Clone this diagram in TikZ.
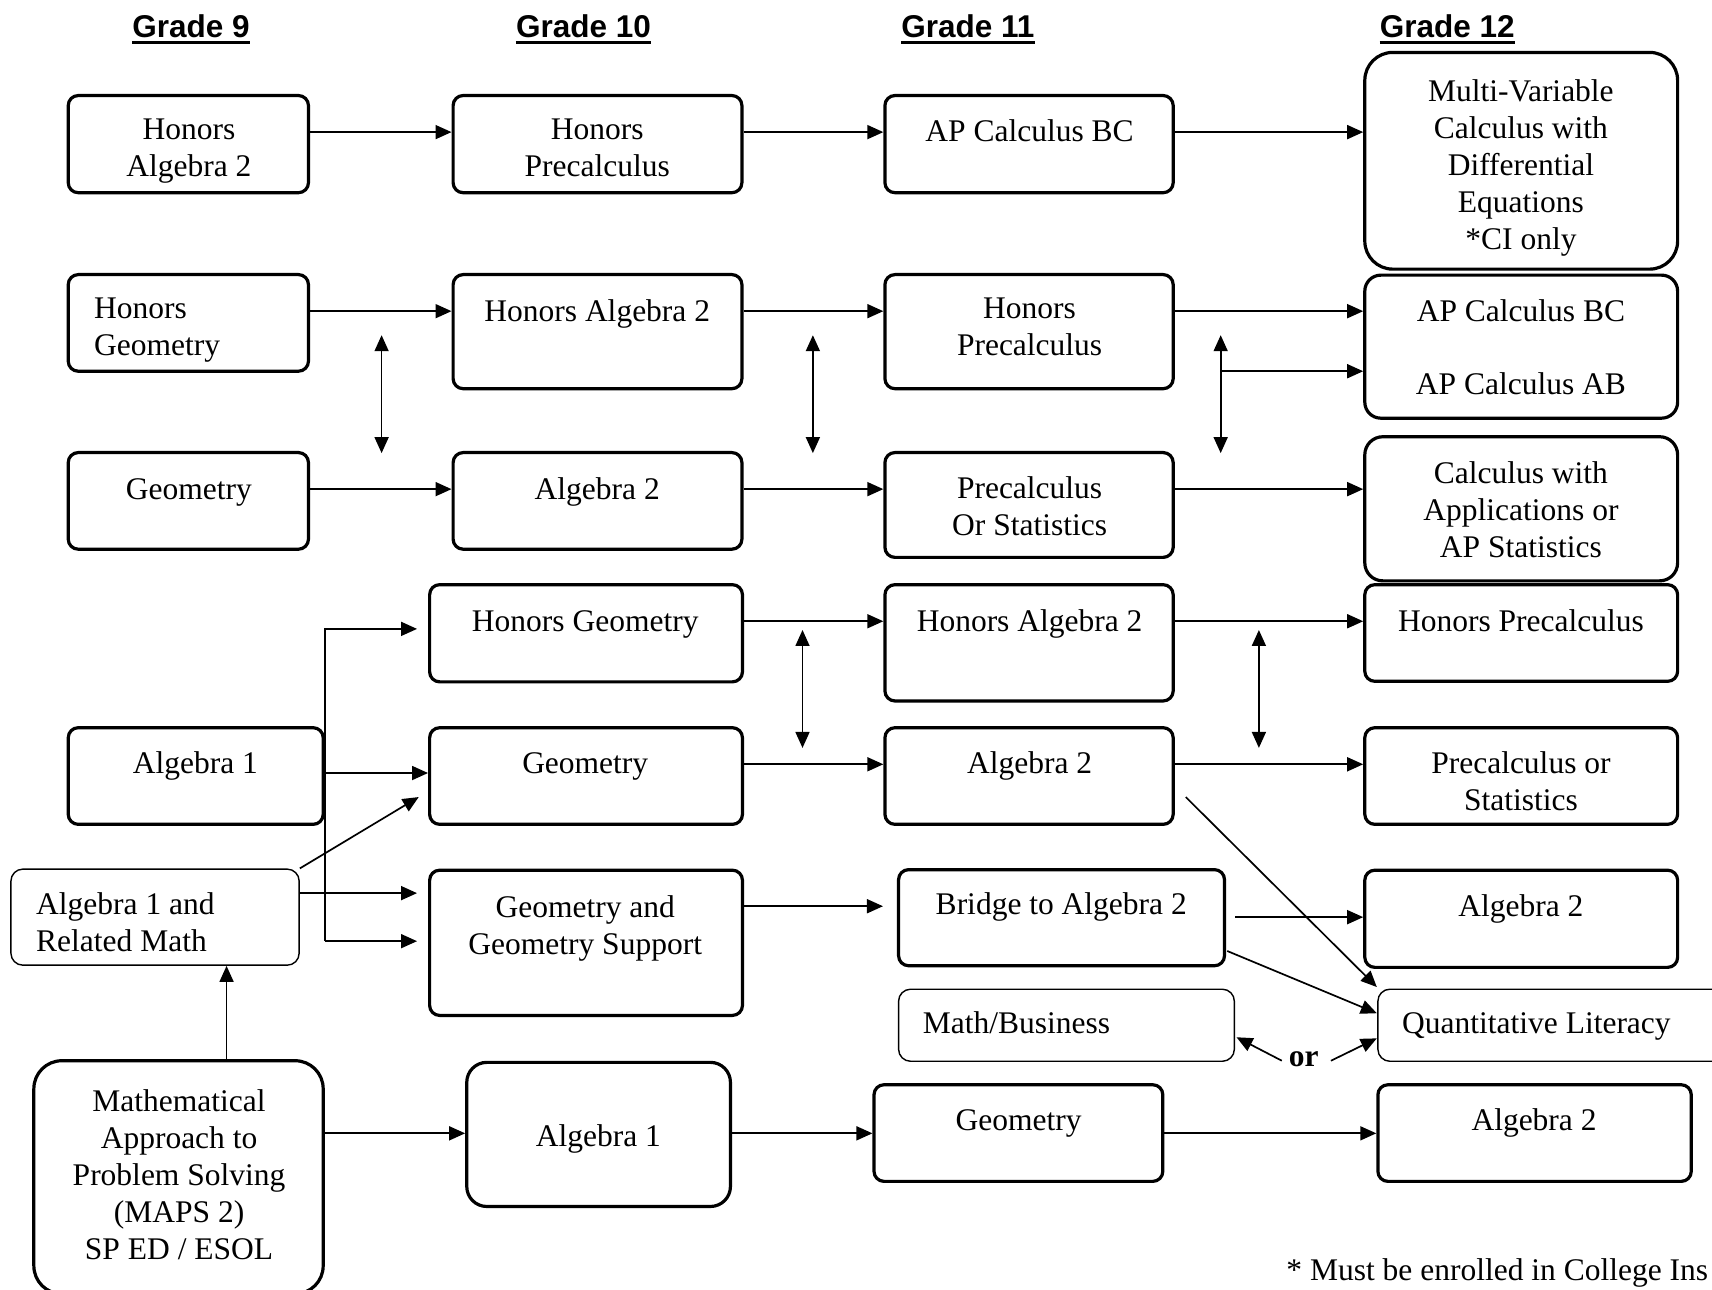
\documentclass[tikz,border=0pt]{standalone}
\usepackage{fontspec}
\setmainfont{Liberation Serif}
\newfontfamily\headfont{Liberation Sans}
\usetikzlibrary{fit,arrows.meta}
\begin{document}
\begin{tikzpicture}[x=1.0918pt,y=-1.0918pt,
  box/.style={draw, line width=3.2pt, rounded corners=10pt, inner sep=0pt},
  thinbox/.style={draw, line width=1.4pt, rounded corners=12pt, inner sep=0pt},
  txt/.style={anchor=north, yshift=15pt, align=center, inner sep=0pt, font=\fontsize{31.5pt}{37pt}\selectfont, execute at begin node=\strut},
  txtm/.style={txt, yshift=-4pt},
  txtl/.style={txt, anchor=north west, align=left},
  txtlm/.style={txtl, yshift=-4pt},
  head/.style={anchor=base, inner sep=0pt, font=\headfont\bfseries\fontsize{31.5pt}{37pt}\selectfont},
  uline/.style={line width=3.2pt},
  arr/.style={line width=1.7pt, -{Triangle[length=16pt,width=14pt]}},
  darr/.style={line width=1.7pt, {Triangle[length=16pt,width=14pt]}-{Triangle[length=16pt,width=14pt]}},
]
\useasboundingbox (0,0) rectangle (1568,1181);
\clip (0,0) rectangle (1568,1181);

% headings
\node[head] (g9) at (175,34) {Grade 9};
\node[head] (g10) at (534.5,34) {Grade 10};
\node[head] (g11) at (886.5,34) {Grade 11};
\node[head] (g12) at (1325.5,34) {Grade 12};
\foreach \g in {g9,g10,g11,g12}{
  \draw[uline] ([yshift=-5pt]\g.base west) -- ([yshift=-5pt]\g.base east);
}

% boxes
\node[box, fit={(62.5,87.5)(282.5,176.5)}] (ha2a) {};
\node[box, fit={(415,87.5)(679.5,176.5)}] (hpre10) {};
\node[box, fit={(810.5,87.5)(1074.5,176.5)}] (apbc11) {};
\node[box, rounded corners=28pt, fit={(1250,48)(1536.5,246.5)}] (mv12) {};

\node[box, fit={(62.5,251.5)(282.5,340)}] (hg9) {};
\node[box, fit={(415,251.5)(679.5,356)}] (ha2b) {};
\node[box, fit={(810.5,251.5)(1074.5,356)}] (hpre11) {};
\node[box, rounded corners=16pt, fit={(1250,252)(1536.5,383)}] (apbc12) {};

\node[box, fit={(62.5,414.5)(282.5,503)}] (geo9) {};
\node[box, fit={(415,414.5)(679.5,503)}] (a2ten) {};
\node[box, fit={(810.5,414.5)(1074.5,510.5)}] (prestat11) {};
\node[box, rounded corners=18pt, fit={(1250,400)(1536.5,532)}] (calcapp12) {};

\node[box, fit={(393.5,535.5)(680,624.5)}] (hgeo10) {};
\node[box, fit={(810.5,535.5)(1074.5,642)}] (ha2c) {};
\node[box, fit={(1250,535.5)(1536.5,624)}] (hpre12) {};

\node[box, fit={(62.5,666.5)(296,755)}] (alg1nine) {};
\node[box, fit={(393.5,666.5)(680,755)}] (geo10) {};
\node[box, fit={(810.5,666.5)(1074.5,755)}] (a2eleven) {};
\node[box, fit={(1250,666.5)(1536.5,755)}] (prestat12) {};

\node[thinbox, fit={(10,796)(274,884)}] (a1rm) {};
\node[box, fit={(393.5,797)(680,930)}] (ggs10) {};
\node[box, fit={(823,796.5)(1121.5,884.5)}] (bridge) {};
\node[box, fit={(1250,797)(1536.5,886)}] (a2twa) {};

\node[thinbox, fit={(823,906)(1130.5,972)}] (mb) {};
\node[thinbox, fit={(1262,906)(1600,972)}] (ql) {};

\node[box, rounded corners=28pt, fit={(31,971.5)(296,1185)}] (maps) {};
\node[box, rounded corners=20pt, fit={(427.5,973)(669,1105)}] (alg1ten) {};
\node[box, fit={(800.5,993.5)(1065,1082)}] (geo11) {};
\node[box, fit={(1262,993.5)(1549,1082)}] (a2twb) {};

% texts
\node[txtm] (t1) at (173,119) {Honors\\Algebra 2};
\node[txtm] (t2) at (547,119) {Honors\\Precalculus};
\node[txt] (t3) at (943,119) {AP Calculus BC};
\node[txtm] (t4) at (1393,83) {Multi-Variable\\Calculus with\\Differential\\Equations\\*CI only};

\node[txtlm] (t5) at (86,283) {Honors\\Geometry};
\node[txt] (t6) at (547,284) {Honors Algebra 2};
\node[txtm] (t7) at (943,283) {Honors\\Precalculus};
\node[txtm] (t8) at (1393,284) {AP Calculus BC\\[36pt]AP Calculus AB};

\node[txt] (t9) at (173,447) {Geometry};
\node[txt] (t10) at (547,447) {Algebra 2};
\node[txtm] (t11) at (943,446) {Precalculus\\Or Statistics};
\node[txtm] (t12) at (1393,433) {Calculus with\\Applications or\\AP Statistics};

\node[txt] (t13) at (536,568) {Honors Geometry};
\node[txt] (t14) at (943,568) {Honors Algebra 2};
\node[txt] (t15) at (1393,568) {Honors Precalculus};

\node[txt] (t16) at (179,698) {Algebra 1};
\node[txt] (t17) at (536,698) {Geometry};
\node[txt] (t18) at (943,698) {Algebra 2};
\node[txtm] (t19) at (1393,698) {Precalculus or\\Statistics};

\node[txtlm] (t20) at (33,827) {Algebra 1 and\\Related Math};
\node[txtm] (t21) at (536,830) {Geometry and\\Geometry Support};
\node[txt] (t22) at (972,827) {Bridge to Algebra 2};
\node[txt] (t23) at (1393,829) {Algebra 2};

\node[txtl] (t24) at (845,936) {Math/Business};
\node[txtl] (t25) at (1284,936) {Quantitative Literacy};
\node[txt] (tor) at (1194,967) {\textbf{or}};

\node[txtm] (t26) at (164,1008) {Mathematical\\Approach to\\Problem Solving\\(MAPS 2)\\SP ED / ESOL};
\node[txt] (t27) at (548,1040) {Algebra 1};
\node[txt] (t28) at (933,1025) {Geometry};
\node[txt] (t29) at (1405,1025) {Algebra 2};

\node[txtl] (t30) at (1178,1163) {* Must be enrolled in College Ins};

% level coordinates
\coordinate (y121) at (0,121);
\coordinate (y285) at (0,285);
\coordinate (y340) at (0,340);
\coordinate (y448) at (0,448);
\coordinate (y569) at (0,569);
\coordinate (y576) at (0,576);
\coordinate (y700) at (0,700);
\coordinate (y708) at (0,708);
\coordinate (y818) at (0,818);
\coordinate (y830) at (0,830);
\coordinate (y840) at (0,840);
\coordinate (y862) at (0,862);
\coordinate (y1038) at (0,1038);
\coordinate (vx) at (207.5,0);

% row 1
\draw[arr] (ha2a.east |- y121) -- (hpre10.west |- y121);
\draw[arr] (hpre10.east |- y121) -- (apbc11.west |- y121);
\draw[arr] (apbc11.east |- y121) -- (mv12.west |- y121);
% row 2
\draw[arr] (hg9.east |- y285) -- (ha2b.west |- y285);
\draw[arr] (ha2b.east |- y285) -- (hpre11.west |- y285);
\draw[arr] (hpre11.east |- y285) -- (apbc12.west |- y285);
\coordinate (br) at (1118,340);
\draw[arr] (br) -- (apbc12.west |- y340);
% double arrows
\coordinate (da1t) at (349.5,307); \coordinate (da1b) at (349.5,415);
\coordinate (da2t) at (744.5,307); \coordinate (da2b) at (744.5,415);
\coordinate (da3t) at (1118,307);  \coordinate (da3b) at (1118,415);
\coordinate (da4t) at (735,577);   \coordinate (da4b) at (735,685);
\coordinate (da5t) at (1153,577);  \coordinate (da5b) at (1153,685);
\draw[darr] (da1t) -- (da1b);
\draw[darr] (da2t) -- (da2b);
\draw[darr] (da3t) -- (da3b);
\draw[darr] (da4t) -- (da4b);
\draw[darr] (da5t) -- (da5b);
% row 3
\draw[arr] (geo9.east |- y448) -- (a2ten.west |- y448);
\draw[arr] (a2ten.east |- y448) -- (prestat11.west |- y448);
\draw[arr] (prestat11.east |- y448) -- (calcapp12.west |- y448);
% row 4
\draw[arr] (hgeo10.east |- y569) -- (ha2c.west |- y569);
\draw[arr] (ha2c.east |- y569) -- (hpre12.west |- y569);
% row 5
\draw[arr] (alg1nine.east |- y708) -- (geo10.west |- y708);
\draw[arr] (geo10.east |- y700) -- (a2eleven.west |- y700);
\draw[arr] (a2eleven.east |- y700) -- (prestat12.west |- y700);
% algebra 1 branch
\draw[arr, shorten >=11pt] (alg1nine.east |- y862) -- (alg1nine.east |- y576) -- (hgeo10.west |- y576);
\draw[arr, shorten >=11pt] (alg1nine.east |- y862) -- (ggs10.west |- y862);
% algebra 1 and related math
\draw[arr, shorten >=11pt] (a1rm.east |- y818) -- (ggs10.west |- y818);
\coordinate (d1) at (383.5,730);
\draw[arr] (a1rm.north east) -- (d1);
% row 6
\draw[arr, shorten >=14pt] (ggs10.east |- y830) -- (bridge.west |- y830);
\draw[arr, shorten <=9pt] (bridge.east |- y840) -- (a2twa.west |- y840);
\coordinate (q1s) at (1124,871); \coordinate (q1e) at (1261,928);
\draw[arr] (q1s) -- (q1e);
\coordinate (q2s) at (1086,730); \coordinate (q2e) at (1261,904);
\draw[arr] (q2s) -- (q2e);
% or arrows
\coordinate (o1s) at (1174,971.5); \coordinate (o1e) at (1132.5,950);
\coordinate (o2s) at (1219,971.5); \coordinate (o2e) at (1261,951);
\draw[arr] (o1s) -- (o1e);
\draw[arr] (o2s) -- (o2e);
% row 8
\draw[arr] (maps.east |- y1038) -- (alg1ten.west |- y1038);
\draw[arr] (alg1ten.east |- y1038) -- (geo11.west |- y1038);
\draw[arr] (geo11.east |- y1038) -- (a2twb.west |- y1038);
\draw[arr] (maps.north -| vx) -- (a1rm.south -| vx);
\end{tikzpicture}
\end{document}
